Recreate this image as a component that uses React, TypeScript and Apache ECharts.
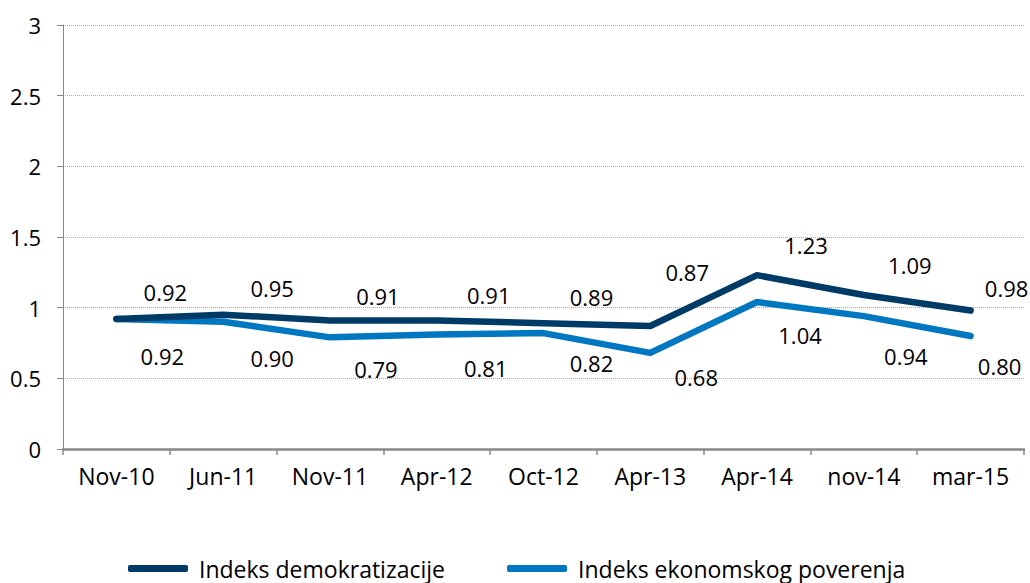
import React, { useEffect, useRef } from "react";
import * as echarts from "echarts";

const categories = ["Nov-10", "Jun-11", "Nov-11", "Apr-12", "Oct-12", "Apr-13", "Apr-14", "nov-14", "mar-15"];
const demokratizacija = [0.92, 0.95, 0.91, 0.91, 0.89, 0.87, 1.23, 1.09, 0.98];
const ekonomskoPoverenje = [0.92, 0.9, 0.79, 0.81, 0.82, 0.68, 1.04, 0.94, 0.8];
const yTicks = { min: 0, max: 3, interval: 0.5 };

const darkOffsets: [number, number][] = [
  [49, -27], [49, -27], [48, -24], [52, -25], [48, -26], [37, -54], [49, -30], [46, -30], [36, -22],
];
const lightOffsets: [number, number][] = [
  [46, 37], [49, 36], [46, 32], [49, 33], [48, 30], [46, 24], [43, 33], [42, 40], [29, 30],
];

const FONT = "'Open Sans', 'Noto Sans', sans-serif";
const DARK = "#003a66";
const LIGHT = "#0077c0";

export default function App() {
  const ref = useRef<HTMLDivElement>(null);
  useEffect(() => {
    if (!ref.current) return;
    const chart = echarts.init(ref.current, undefined, { renderer: "svg" });
    const mk = (vals: number[], offs: [number, number][]) =>
      vals.map((v, i) => ({ value: v, label: { offset: offs[i] } }));
    const labelBase = {
      show: true,
      position: "inside" as const,
      align: "center" as const,
      verticalAlign: "middle" as const,
      fontFamily: FONT,
      fontSize: 22,
      color: "#000",
      formatter: (p: any) => Number(p.value).toFixed(2),
    };
    chart.setOption({
      animation: false,
      backgroundColor: "#fff",
      textStyle: { fontFamily: FONT },
      grid: { left: 63, right: 6, top: 25, bottom: 134, containLabel: false },
      legend: {
        top: 552,
        left: 123,
        icon: "roundRect",
        itemWidth: 60,
        itemHeight: 7,
        itemGap: 62,
        textStyle: { fontFamily: FONT, fontSize: 23, color: "#000", padding: [0, 0, 0, 6] },
        data: ["Indeks demokratizacije", "Indeks ekonomskog poverenja"],
      },
      xAxis: {
        type: "category",
        data: categories,
        boundaryGap: true,
        axisLine: { show: true, lineStyle: { color: "#888", width: 2.5 } },
        axisTick: { show: true, length: 6, alignWithLabel: false, lineStyle: { color: "#888", width: 1.5 } },
        axisLabel: { fontFamily: FONT, fontSize: 23, color: "#000", margin: 15 },
        splitLine: { show: false },
      },
      yAxis: {
        type: "value",
        min: yTicks.min,
        max: yTicks.max,
        interval: yTicks.interval,
        axisLine: { show: true, lineStyle: { color: "#888", width: 1 } },
        axisTick: { show: true, length: 6, lineStyle: { color: "#888" } },
        axisLabel: { fontFamily: FONT, fontSize: 22, color: "#000", margin: 22 },
        splitLine: { show: true, lineStyle: { color: "#aaa", type: "dotted", width: 1 } },
      },
      series: [
        {
          name: "Indeks demokratizacije",
          type: "line",
          data: mk(demokratizacija, darkOffsets),
          symbol: "circle",
          symbolSize: 0.1,
          showSymbol: true,
          lineStyle: { color: DARK, width: 6.5, cap: "round", join: "round" },
          itemStyle: { color: DARK },
          label: labelBase,
          z: 3,
        },
        {
          name: "Indeks ekonomskog poverenja",
          type: "line",
          data: mk(ekonomskoPoverenje, lightOffsets),
          symbol: "circle",
          symbolSize: 0.1,
          showSymbol: true,
          lineStyle: { color: LIGHT, width: 6.5, cap: "round", join: "round" },
          itemStyle: { color: LIGHT },
          label: labelBase,
          z: 2,
        },
      ],
    });
    return () => chart.dispose();
  }, []);
  return (
    <div
      ref={ref}
      style={{ position: "fixed", top: 0, left: 0, width: 1030, height: 583, overflow: "hidden" }}
    />
  );
}
